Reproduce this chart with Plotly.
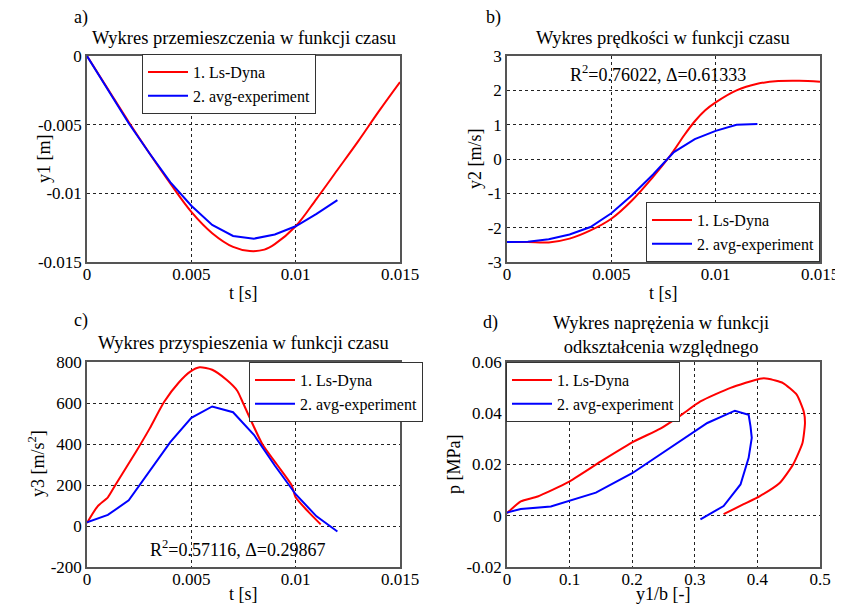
import plotly.graph_objects as go

# ---------------- data ----------------
# a) displacement
a_t_red = [0, 0.001, 0.002, 0.003, 0.004, 0.005, 0.006, 0.007, 0.0078, 0.0085, 0.009, 0.010, 0.011, 0.012, 0.013, 0.014, 0.015]
a_y_red = [0, -0.0024, -0.0048, -0.0071, -0.0093, -0.01135, -0.0129, -0.0139, -0.0142, -0.0141, -0.0137, -0.0124, -0.0104, -0.0083, -0.0062, -0.0040, -0.0019]
a_t_blue = [0, 0.001, 0.002, 0.003, 0.004, 0.005, 0.006, 0.007, 0.008, 0.009, 0.010, 0.011, 0.012]
a_y_blue = [0, -0.0024, -0.0049, -0.0071, -0.0092, -0.0109, -0.0123, -0.0131, -0.0133, -0.0130, -0.0124, -0.0115, -0.0105]

# b) velocity
b_t_red = [0, 0.001, 0.002, 0.003, 0.004, 0.005, 0.006, 0.007, 0.0077, 0.008, 0.0085, 0.009, 0.0095, 0.010, 0.011, 0.012, 0.013, 0.014, 0.015]
b_y_red = [-2.42, -2.42, -2.43, -2.32, -2.08, -1.74, -1.2, -0.52, 0, 0.25, 0.7, 1.1, 1.42, 1.65, 2.0, 2.19, 2.27, 2.28, 2.25]
b_t_blue = [0, 0.001, 0.002, 0.003, 0.004, 0.005, 0.006, 0.007, 0.008, 0.009, 0.010, 0.011, 0.012]
b_y_blue = [-2.42, -2.41, -2.34, -2.2, -1.98, -1.58, -1.05, -0.45, 0.2, 0.58, 0.82, 1.0, 1.02]

# c) acceleration
c_t_red = [0, 0.0005, 0.001, 0.00136, 0.0024, 0.003, 0.0037, 0.0044, 0.00495, 0.0054, 0.006, 0.0067, 0.0072, 0.0075, 0.0084, 0.0091, 0.0098, 0.010, 0.0106, 0.0112]
c_y_red = [15, 95, 140, 200, 371, 475, 606, 700, 753, 774, 762, 712, 660, 595, 400, 300, 200, 140, 70, 8]
c_t_blue = [0, 0.001, 0.002, 0.003, 0.004, 0.005, 0.006, 0.007, 0.008, 0.009, 0.010, 0.011, 0.012]
c_y_blue = [18, 54, 125, 265, 410, 528, 583, 555, 445, 295, 155, 47, -27]

# d) stress vs strain
d_x_red = [0, 0.022, 0.049, 0.097, 0.15, 0.203, 0.245, 0.277, 0.309, 0.357, 0.404, 0.417, 0.441, 0.463, 0.474, 0.476, 0.472, 0.457, 0.436, 0.404, 0.378, 0.346]
d_y_red = [0.001, 0.0056, 0.0075, 0.013, 0.0212, 0.029, 0.034, 0.0391, 0.0446, 0.0499, 0.0535, 0.0535, 0.0518, 0.0472, 0.0407, 0.0362, 0.0284, 0.02, 0.0129, 0.0077, 0.0045, 0.0006]
d_x_blue = [0, 0.022, 0.07, 0.097, 0.142, 0.2, 0.24, 0.277, 0.320, 0.364, 0.386, 0.389, 0.391, 0.386, 0.373, 0.346, 0.309]
d_y_blue = [0.0013, 0.0026, 0.0036, 0.0056, 0.009, 0.0166, 0.0231, 0.0294, 0.0362, 0.041, 0.0394, 0.0349, 0.0304, 0.0226, 0.0122, 0.0038, -0.0014]

# ticks
t_ticks = [0, 0.005, 0.01, 0.015]
t_ticktext = ["0", "0.005", "0.01", "0.015"]
a_yticks = [0, -0.005, -0.01, -0.015]
a_yticktext = ["0", "-0.005", "-0.01", "-0.015"]
b_yticks = [3, 2, 1, 0, -1, -2, -3]
b_yticktext = ["3", "2", "1", "0", "-1", "-2", "-3"]
c_yticks = [800, 600, 400, 200, 0, -200]
c_yticktext = ["800", "600", "400", "200", "0", "-200"]
d_xticks = [0, 0.1, 0.2, 0.3, 0.4, 0.5]
d_xticktext = ["0", "0.1", "0.2", "0.3", "0.4", "0.5"]
d_yticks = [0.06, 0.04, 0.02, 0, -0.02]
d_yticktext = ["0.06", "0.04", "0.02", "0", "-0.02"]

names = ["1. Ls-Dyna", "2. avg-experiment"]

# ---------------- figure ----------------
# the page body has an 8px margin, so the figure is 8px smaller and
# all positions (given in window pixels) are shifted by that offset
OFF = 8
W, H = 843 - OFF, 608 - OFF
FONT = "Liberation Serif, Times New Roman, serif"
RED, BLUE = "#ff0000", "#0000ff"

def px(x):
    return (x - OFF) / W

def py(y):
    return 1 - (y - OFF) / H

fig = go.Figure()

panels = [
    ("x", "y", "legend", a_t_red, a_y_red, a_t_blue, a_y_blue, 1.0),
    ("x2", "y2", "legend2", b_t_red, b_y_red, b_t_blue, b_y_blue, 1.0),
    ("x3", "y3", "legend3", c_t_red, c_y_red, c_t_blue, c_y_blue, 0.6),
    ("x4", "y4", "legend4", d_x_red, d_y_red, d_x_blue, d_y_blue, 0.5),
]
for xa, ya, lg, xr, yr, xb, yb, sm in panels:
    fig.add_trace(go.Scatter(x=xr, y=yr, mode="lines", name=names[0],
                             line=dict(color=RED, width=2, shape="spline", smoothing=sm),
                             xaxis=xa, yaxis=ya, legend=lg))
    fig.add_trace(go.Scatter(x=xb, y=yb, mode="lines", name=names[1],
                             line=dict(color=BLUE, width=2), xaxis=xa, yaxis=ya, legend=lg))

def axis(domain, rng, tv, tt, anchor, standoff=0):
    return dict(domain=domain, range=rng, tickvals=tv, ticktext=tt, anchor=anchor,
                automargin=False, ticklabelstandoff=standoff,
                showline=True, mirror=True, linecolor="#555555", linewidth=1.5,
                showgrid=True, gridcolor="#222222", griddash="dot", gridwidth=1,
                zeroline=False, ticks="", tickfont=dict(family=FONT, size=17, color="black"))

xL = [px(87), px(400)]
xR = [px(507), px(820)]
yT = [py(262), py(56)]
yB = [py(567), py(362)]

legend_style = dict(bgcolor="white", bordercolor="#333333", borderwidth=1,
                    font=dict(family=FONT, size=16, color="black"),
                    itemwidth=40, tracegroupgap=0)

fig.update_layout(
    template="none",
    width=W, height=H, autosize=False,
    margin=dict(l=0, r=0, t=0, b=0, pad=0),
    paper_bgcolor="white", plot_bgcolor="white",
    font=dict(family=FONT, size=17, color="black"),
    xaxis=axis(xL, [0, 0.015], t_ticks, t_ticktext, "y", -4),
    yaxis=axis(yT, [-0.015, 0], a_yticks, a_yticktext, "x"),
    xaxis2=axis(xR, [0, 0.015], t_ticks, t_ticktext, "y2", -4),
    yaxis2=axis(yT, [-3, 3], b_yticks, b_yticktext, "x2"),
    xaxis3=axis(xL, [0, 0.015], t_ticks, t_ticktext, "y3", -4),
    yaxis3=axis(yB, [-200, 800], c_yticks, c_yticktext, "x3"),
    xaxis4=axis(xR, [0, 0.5], d_xticks, d_xticktext, "y4", -4),
    yaxis4=axis(yB, [-0.02, 0.06], d_yticks, d_yticktext, "x4"),
    legend=dict(x=px(142), y=py(54), xanchor="left", yanchor="top", **legend_style),
    legend2=dict(x=px(820), y=py(262), xanchor="right", yanchor="bottom", **legend_style),
    legend3=dict(x=px(249), y=py(362), xanchor="left", yanchor="top", **legend_style),
    legend4=dict(x=px(506), y=py(362), xanchor="left", yanchor="top", **legend_style),
)

def ann(text, x, y, size=18, angle=0):
    fig.add_annotation(text=text, x=px(x), y=py(y), xref="paper", yref="paper",
                       showarrow=False, textangle=angle, xanchor="center", yanchor="middle",
                       font=dict(family=FONT, size=size, color="black"))

# panel labels
ann("a)", 81, 17)
ann("b)", 493, 17)
ann("c)", 81, 320)
ann("d)", 491, 322)
# titles
ann("Wykres przemieszczenia w funkcji czasu", 244, 38, size=18.5)
ann("Wykres prędkości w funkcji czasu", 663, 38, size=18.5)
ann("Wykres przyspieszenia w funkcji czasu", 243, 343, size=18.5)
ann("Wykres naprężenia w funkcji<br>odkształcenia względnego", 661, 335, size=18.5)
# axis titles
ann("t [s]", 243, 293)
ann("t [s]", 663, 293)
ann("t [s]", 243, 594)
ann("y1/b [-]", 663, 594)
ann("y1 [m]", 44, 159, angle=-90)
ann("y2 [m/s]", 475, 159, angle=-90)
ann("y3 [m/s<sup>2</sup>]", 36, 464, angle=-90)
ann("p [MPa]", 454, 464, angle=-90)
# statistics
ann("R<sup>2</sup>=0.76022, Δ=0.61333", 658, 74)
ann("R<sup>2</sup>=0.57116, Δ=0.29867", 238, 548)

fig.write_html("out.html")
